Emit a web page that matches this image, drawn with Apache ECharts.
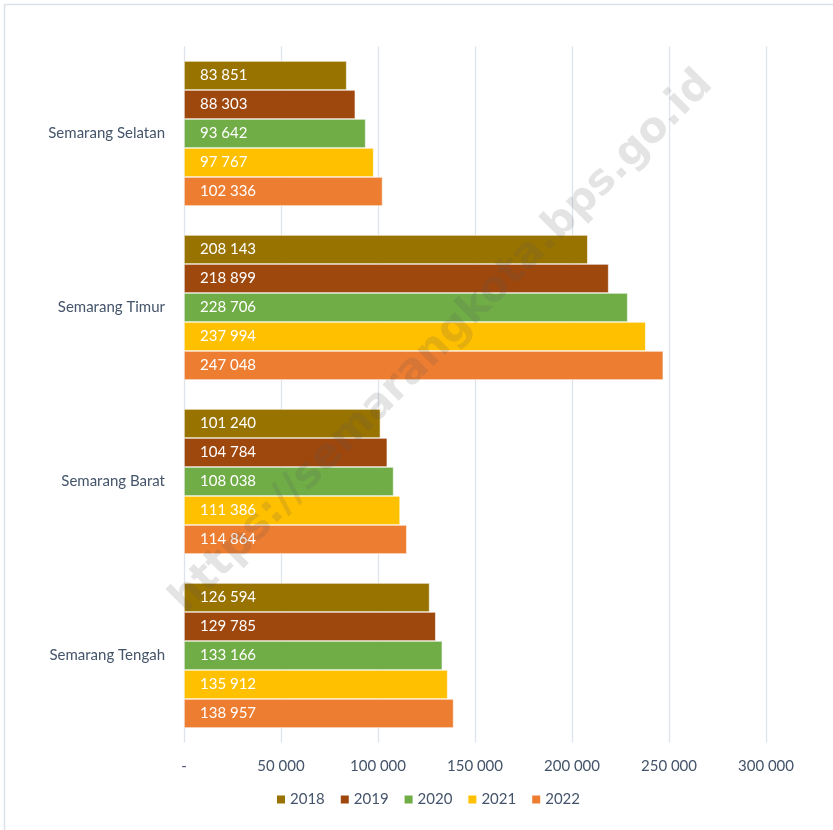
<!DOCTYPE html>
<html>
<head>
<meta charset="utf-8">
<script src="https://cdn.jsdelivr.net/npm/echarts@6/dist/echarts.min.js"></script>
<style>
  html, body { margin: 0; padding: 0; background: #fff; }
  #chart { width: 833px; height: 830px; }
</style>
</head>
<body>
<div id="chart"></div>
<script>
// Kecamatan (top to bottom)
const districts = ['Semarang Selatan', 'Semarang Timur', 'Semarang Barat', 'Semarang Tengah'];
const years = ['2018', '2019', '2020', '2021', '2022'];
const v2018 = [83851, 208143, 101240, 126594];
const v2019 = [88303, 218899, 104784, 129785];
const v2020 = [93642, 228706, 108038, 133166];
const v2021 = [97767, 237994, 111386, 135912];
const v2022 = [102336, 247048, 114864, 138957];
const xTicks = [0, 50000, 100000, 150000, 200000, 250000, 300000];

const seriesValues = [v2018, v2019, v2020, v2021, v2022];
const colors = ['#997300', '#9e480e', '#70ad47', '#ffc000', '#ed7d31'];
const FONT = 'Lato, "Open Sans", sans-serif';
const TEXT = '#44546a';

function fmt(n) {
  if (n === 0) return '-';
  return String(n).replace(/\B(?=(\d{3})+(?!\d))/g, ' ');
}

const chart = echarts.init(document.getElementById('chart'), null, { renderer: 'canvas' });

chart.setOption({
  animation: false,
  backgroundColor: '#ffffff',
  textStyle: { fontFamily: FONT },
  grid: { left: 184, right: 67, top: 46.5, bottom: 87.5, containLabel: false },
  xAxis: {
    type: 'value',
    min: xTicks[0],
    max: xTicks[xTicks.length - 1],
    interval: xTicks[1] - xTicks[0],
    axisLine: { show: false },
    axisTick: { show: false },
    splitLine: { show: true, lineStyle: { color: '#dfe3ea', width: 1.3 } },
    axisLabel: {
      color: TEXT, fontSize: 15, fontFamily: FONT, margin: 16,
      formatter: v => fmt(v)
    }
  },
  yAxis: {
    type: 'category',
    inverse: true,
    data: districts,
    axisLine: { show: false },
    axisTick: { show: false },
    axisLabel: { color: TEXT, fontSize: 15, fontFamily: FONT, margin: 19 }
  },
  legend: {
    bottom: 18,
    left: 270,
    itemWidth: 10,
    itemHeight: 10,
    itemGap: 14,
    icon: 'rect',
    textStyle: { color: TEXT, fontSize: 15, fontFamily: FONT, padding: [0, 0, 0, -1] },
    data: years
  },
  graphic: [
    {
      type: 'rect',
      shape: { x: 4.5, y: 4.5, width: 900, height: 900 },
      style: { fill: 'none', stroke: '#dde2ea', lineWidth: 1.5 },
      silent: true
    },
    {
      type: 'text',
      x: 442, y: 342,
      rotation: Math.PI / 4,
      z: 100,
      style: {
        text: 'https://semarangkota.bps.go.id',
        font: 'bold 42px "DejaVu Sans", sans-serif',
        fill: 'rgba(90,90,90,0.16)',
        align: 'center',
        verticalAlign: 'middle'
      },
      silent: true
    }
  ],
  series: years.map((y, i) => ({
    name: y,
    type: 'bar',
    data: seriesValues[i],
    barGap: '0%',
    barCategoryGap: '16.7%',
    itemStyle: { color: colors[i], borderColor: '#ffffff', borderWidth: 0.6 },
    label: {
      show: true,
      position: 'insideLeft',
      distance: 16,
      color: '#ffffff',
      fontSize: 15,
      fontFamily: FONT,
      formatter: p => fmt(p.value)
    }
  }))
});
</script>
</body>
</html>
